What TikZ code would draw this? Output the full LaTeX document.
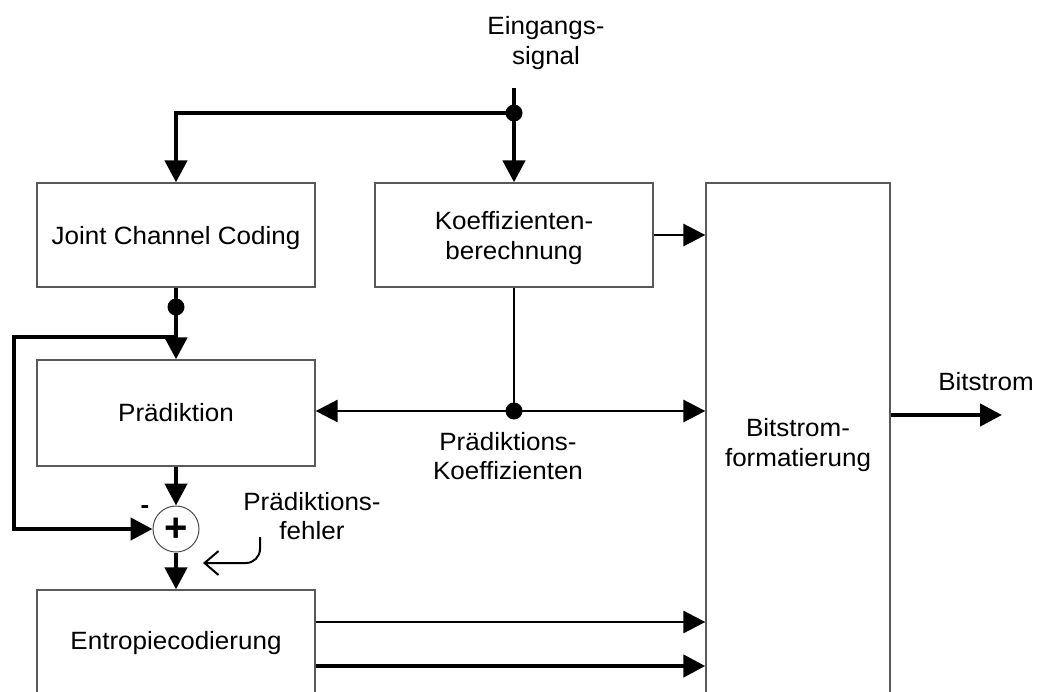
\documentclass[tikz,border=0pt]{standalone}
\usepackage{fontspec}
\setmainfont{Liberation Sans}
\usetikzlibrary{arrows.meta}
\begin{document}
\begin{tikzpicture}[x=1pt,y=-1pt,
  box/.style={draw=black!65, line width=1.3pt, minimum width=278pt, minimum height=104pt, inner sep=0pt},
  txt/.style={font=\fontsize{25}{29.5}\selectfont, align=center, xscale=1.04, inner sep=0pt},
  thk/.style={line width=4.5pt},
  thn/.style={line width=2.8pt},
  tip/.style={-{Triangle[length=22pt,width=22pt]}},
  dot/.style={circle, fill=black, minimum size=17pt, inner sep=0pt},
]
\clip (0,0) rectangle (1038,691);
% boxes
\node[box] (jcc) at (176,235) {};
\node[box] (koef) at (514,235) {};
\node[box, minimum height=106pt] (pred) at (176,413) {};
\node[box, minimum height=200pt] (ent) at (176,690) {};
\node[box, minimum width=184pt, minimum height=600pt] (bf) at (798,483) {};
% texts
\node[txt] (tjcc) at (176,238) {Joint Channel Coding};
\node[txt] (tkoef) at (514,238) {Koeffizienten-\\berechnung};
\node[txt] (tpred) at (176,413) {Prädiktion};
\node[txt] (tent) at (176,643) {Entropiecodierung};
\node[txt] (tbf) at (798,445) {Bitstrom-\\formatierung};
\node[txt] (tin) at (546,43) {Eingangs-\\signal};
\node[txt] (tbs) at (986,382) {Bitstrom};
\node[txt] (tpk) at (508,456) {Prädiktions-\\Koeffizienten};
\node[txt] (tpf) at (312,516) {Prädiktions-\\fehler};
\node[txt, font=\fontsize{25}{25}\bfseries] (tminus) at (145,510) {-};
% sum
\node[circle, draw=black!70, line width=1pt, minimum size=46pt, inner sep=0pt] (sum) at (176,529) {};
\node[font=\fontsize{40}{40}\selectfont\bfseries, inner sep=0pt] (tplus) at ([yshift=-1pt]sum.center) {+};
% input
\coordinate (inTop) at (514,88);
\node[dot] (d1) at (514,113) {};
\draw[thk] (inTop) -- (d1.center);
\draw[thk,tip] (d1.center) -- (koef.north);
\draw[thk,tip] (d1.center) -| (jcc.north);
% jcc -> pred
\node[dot] (d2) at (176,307) {};
\draw[thk] (jcc.south) -- (d2.center);
\draw[thk,tip] (d2.center) -- (pred.north);
\coordinate (fb) at (176,337);
\coordinate (fbL) at (14,337);
\draw[thk,tip] (fb) -- (fbL) |- (sum.west);
\draw[thk,tip] (pred.south) -- (sum.north);
\draw[thk,tip] (sum.south) -- (ent.north);
% coefficients
\draw[thn,tip] (koef.east) -- (bf.west |- koef.east);
\node[dot] (d3) at (514,411) {};
\draw[thn] (koef.south) -- (d3.center);
\draw[thn,tip] (d3.center) -- (pred.east |- d3.center);
\draw[thn,tip] (d3.center) -- (bf.west |- d3.center);
% bitstream out
\coordinate (bsEnd) at (1002,415);
\draw[thk,tip] (bf.east |- bsEnd) -- (bsEnd);
% entropy outputs
\coordinate (e1) at (0,622);
\coordinate (e2) at (0,666);
\draw[thn,tip] (ent.east |- e1) -- (bf.west |- e1);
\draw[thk,tip] (ent.east |- e2) -- (bf.west |- e2);
% error pointer
\coordinate (pfs) at (260,537);
\coordinate (pfe) at (203,563);
\draw[line width=2pt, -{Straight Barb[length=14pt,width=24pt]}, rounded corners=14pt] (pfs) |- (pfe);
\end{tikzpicture}
\end{document}
